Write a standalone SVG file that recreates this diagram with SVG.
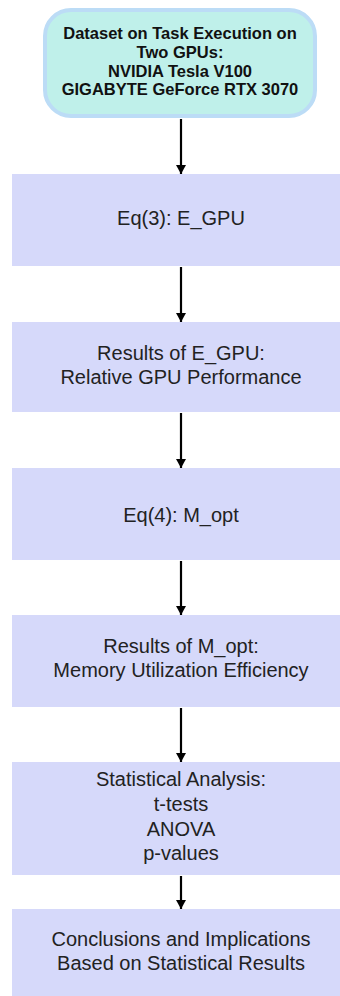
<svg xmlns="http://www.w3.org/2000/svg" width="340" height="996" viewBox="0 0 340 996">
  <style>
    .start { fill: #bff0ea; stroke: #bcdcf6; stroke-width: 4; }
    .step { fill: #d6d9fa; }
    .t { font-family: "Liberation Sans", Arial, sans-serif; font-size: 20px; fill: #222; text-anchor: middle; }
    .tb { font-family: "Liberation Sans", Arial, sans-serif; font-size: 16.5px; font-weight: bold; fill: #111; text-anchor: middle; }
    .edge { stroke: #000; stroke-width: 2.2; fill: none; marker-end: url(#head); }
  </style>
  <defs>
    <!-- solid arrowhead, tip at the end point of the line -->
    <marker id="head" viewBox="0 0 9 10" refX="9" refY="5" markerWidth="9" markerHeight="10" markerUnits="userSpaceOnUse" orient="auto">
      <path d="M0,0 L9,5 L0,10 Z" fill="#000"/>
    </marker>
  </defs>
  <rect width="340" height="996" fill="#fff"/>

  <g id="dataset">
    <rect class="start" x="45" y="10" width="270" height="106" rx="26"/>
    <text class="tb" x="180" y="39">Dataset on Task Execution on</text>
    <text class="tb" x="180" y="58">Two GPUs:</text>
    <text class="tb" x="180" y="76.5">NVIDIA Tesla V100</text>
    <text class="tb" x="180" y="95">GIGABYTE GeForce RTX 3070</text>
  </g>

  <g id="eq3">
    <rect class="step" x="12" y="174" width="340" height="92"/>
    <text class="t" x="181" y="225">Eq(3): E_GPU</text>
  </g>

  <g id="egpu-results">
    <rect class="step" x="12" y="322" width="340" height="90"/>
    <text class="t" x="181" y="360">Results of E_GPU:</text>
    <text class="t" x="181" y="384">Relative GPU Performance</text>
  </g>

  <g id="eq4">
    <rect class="step" x="12" y="468" width="340" height="92"/>
    <text class="t" x="181" y="522">Eq(4): M_opt</text>
  </g>

  <g id="mopt-results">
    <rect class="step" x="12" y="615" width="340" height="92"/>
    <text class="t" x="181" y="653">Results of M_opt:</text>
    <text class="t" x="181" y="677">Memory Utilization Efficiency</text>
  </g>

  <g id="statistics">
    <rect class="step" x="12" y="762" width="340" height="113"/>
    <text class="t" x="181" y="786">Statistical Analysis:</text>
    <text class="t" x="181" y="811">t-tests</text>
    <text class="t" x="181" y="836">ANOVA</text>
    <text class="t" x="181" y="860">p-values</text>
  </g>

  <g id="conclusions">
    <rect class="step" x="12" y="909" width="340" height="90"/>
    <text class="t" x="181" y="946">Conclusions and Implications</text>
    <text class="t" x="181" y="970">Based on Statistical Results</text>
  </g>

  <g id="connectors">
    <line class="edge" x1="181" y1="119" x2="181" y2="174"/>
    <line class="edge" x1="181" y1="267" x2="181" y2="322"/>
    <line class="edge" x1="181" y1="413" x2="181" y2="468"/>
    <line class="edge" x1="181" y1="561" x2="181" y2="615"/>
    <line class="edge" x1="181" y1="708" x2="181" y2="762"/>
    <line class="edge" x1="181" y1="876" x2="181" y2="909"/>
  </g>
</svg>
